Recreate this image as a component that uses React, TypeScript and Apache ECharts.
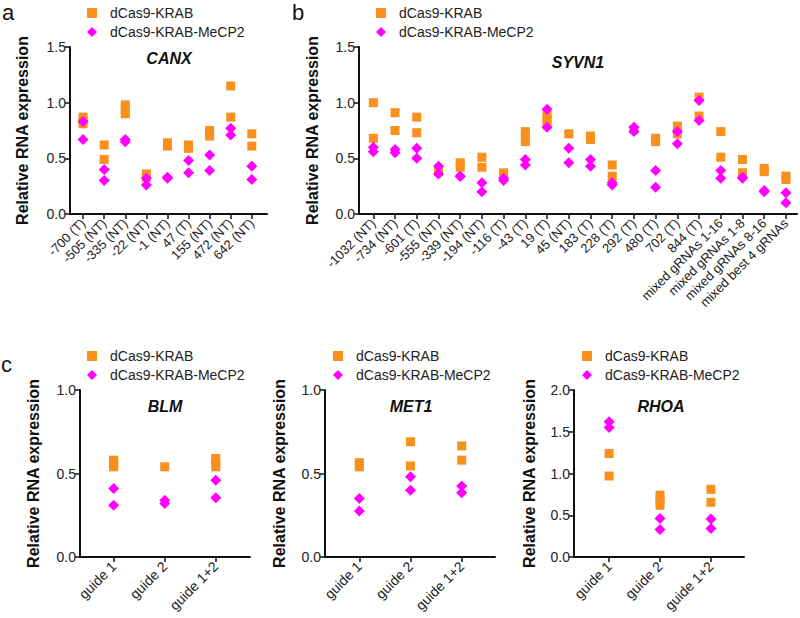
import React, { useEffect, useRef } from "react";
import * as echarts from "echarts";

const FONT = "'Liberation Sans', Arial, sans-serif";
const ORANGE = "#F7901E";
const MAGENTA = "#FF00FF";
const S1 = "dCas9-KRAB";
const S2 = "dCas9-KRAB-MeCP2";

// Panel a: CANX
const canxCats = ["-700 (T)", "-505 (NT)", "-335 (NT)", "-22 (NT)", "-1 (NT)", "47 (T)", "155 (NT)", "472 (NT)", "642 (NT)"];
const canxKrab = [[0.87, 0.84, 0.81], [0.62, 0.49], [0.98, 0.94, 0.9], [0.36, 0.33], [0.64, 0.61], [0.62, 0.59], [0.75, 0.7], [1.15, 0.87], [0.72, 0.61]];
const canxMecp2 = [[0.83, 0.67], [0.4, 0.3], [0.67, 0.65], [0.32, 0.26], [0.33, 0.32], [0.48, 0.37], [0.53, 0.39], [0.77, 0.71], [0.43, 0.31]];

// Panel b: SYVN1
const syvnCats = ["-1032 (NT)", "-734 (NT)", "-601 (T)", "-555 (NT)", "-339 (NT)", "-194 (NT)", "-116 (T)", "-43 (T)", "19 (T)", "45 (NT)", "183 (T)", "228 (T)", "292 (T)", "480 (T)", "702 (T)", "844 (T)", "mixed gRNAs 1-16", "mixed gRNAs 1-8", "mixed gRNAs 8-16", "mixed best 4 gRNAs"];
const syvnKrab = [[1.0, 0.68], [0.91, 0.75], [0.87, 0.73], [0.4, 0.38], [0.46, 0.42], [0.51, 0.42], [0.37, 0.35], [0.74, 0.69, 0.65], [0.89, 0.85, 0.8], [0.72], [0.7, 0.67], [0.44, 0.34], [0.76], [0.68, 0.65], [0.79, 0.72], [1.05, 0.88], [0.74, 0.51], [0.49, 0.37], [0.41, 0.38], [0.34, 0.31]];
const syvnMecp2 = [[0.6, 0.56], [0.58, 0.55], [0.59, 0.5], [0.43, 0.36], [0.34, 0.34], [0.28, 0.2], [0.32, 0.3], [0.49, 0.44], [0.94, 0.78], [0.59, 0.46], [0.49, 0.43], [0.28, 0.26], [0.78, 0.74], [0.39, 0.24], [0.74, 0.63], [1.02, 0.84], [0.39, 0.32], [0.33, 0.32], [0.21, 0.2], [0.19, 0.1]];

// Panel c
const guideCats = ["guide 1", "guide 2", "guide 1+2"];
const blmKrab = [[0.58, 0.56, 0.54], [0.54], [0.59, 0.56, 0.54]];
const blmMecp2 = [[0.41, 0.31], [0.34, 0.32], [0.46, 0.355]];
const met1Krab = [[0.565, 0.54], [0.69, 0.545], [0.665, 0.58]];
const met1Mecp2 = [[0.35, 0.275], [0.48, 0.4], [0.425, 0.385]];
const rhoaKrab = [[1.24, 0.97], [0.74, 0.68, 0.62], [0.81, 0.655]];
const rhoaMecp2 = [[1.62, 1.55], [0.46, 0.33], [0.455, 0.34]];

const yTicks15 = { min: 0, max: 1.5 };
const yTicks10 = { min: 0, max: 1.0 };
const yTicks20 = { min: 0, max: 2.0 };

type Panel = {
  cats: string[];
  krab: number[][];
  mecp2: number[][];
  grid: { left: number; top: number; width: number; height: number };
  xMin: number;
  xMax: number;
  y: { min: number; max: number };
  nameGap: number;
  gene: string;
  geneX: number;
  geneY: number;
  legendLeft: number;
  legendTop: number;
  xFont: number;
};

const panels: Panel[] = [
  { cats: canxCats, krab: canxKrab, mecp2: canxMecp2, grid: { left: 70, top: 47, width: 197, height: 167 }, xMin: -0.62, xMax: 8.72, y: yTicks15, nameGap: 40, gene: "CANX", geneX: 169, geneY: 58, legendLeft: 87, legendTop: 6, xFont: 13 },
  { cats: syvnCats, krab: syvnKrab, mecp2: syvnMecp2, grid: { left: 359, top: 47, width: 438, height: 167 }, xMin: -0.66, xMax: 19.51, y: yTicks15, nameGap: 39, gene: "SYVN1", geneX: 578, geneY: 62, legendLeft: 376, legendTop: 6, xFont: 13 },
  { cats: guideCats, krab: blmKrab, mecp2: blmMecp2, grid: { left: 80, top: 390, width: 170, height: 167 }, xMin: -0.66, xMax: 2.67, y: yTicks10, nameGap: 39, gene: "BLM", geneX: 165, geneY: 406, legendLeft: 87, legendTop: 349, xFont: 14 },
  { cats: guideCats, krab: met1Krab, mecp2: met1Mecp2, grid: { left: 325, top: 390, width: 170, height: 167 }, xMin: -0.67, xMax: 2.65, y: yTicks10, nameGap: 38, gene: "MET1", geneX: 411, geneY: 406, legendLeft: 333, legendTop: 349, xFont: 14 },
  { cats: guideCats, krab: rhoaKrab, mecp2: rhoaMecp2, grid: { left: 574, top: 390, width: 170, height: 167 }, xMin: -0.69, xMax: 2.65, y: yTicks20, nameGap: 37, gene: "RHOA", geneX: 661, geneY: 406, legendLeft: 582, legendTop: 349, xFont: 14 },
];

function toPoints(groups: number[][]) {
  const out: number[][] = [];
  groups.forEach((g, i) => g.forEach((v) => out.push([i, v])));
  return out;
}

function buildOption() {
  const grid: any[] = [];
  const xAxis: any[] = [];
  const yAxis: any[] = [];
  const series: any[] = [];
  const legend: any[] = [];
  const graphic: any[] = [];
  const axisColor = "#111";

  panels.forEach((p, k) => {
    grid.push({ ...p.grid, containLabel: false });
    const idx = p.cats.map((_, i) => i);
    xAxis.push({
      type: "value",
      gridIndex: k,
      min: p.xMin,
      max: p.xMax,
      splitLine: { show: false },
      axisLine: { show: true, onZero: false, lineStyle: { color: axisColor, width: 2 } },
      axisTick: { show: true, customValues: idx, length: 5, lineStyle: { color: axisColor, width: 1.5 } },
      axisLabel: {
        show: true,
        customValues: idx,
        formatter: (v: number) => p.cats[Math.round(v)] ?? "",
        rotate: 45,
        fontSize: p.xFont,
        fontFamily: FONT,
        color: "#222",
        margin: 7,
      },
    });
    yAxis.push({
      type: "value",
      gridIndex: k,
      min: p.y.min,
      max: p.y.max,
      interval: 0.5,
      splitLine: { show: false },
      axisLine: { show: true, onZero: false, lineStyle: { color: axisColor, width: 2 } },
      axisTick: { show: true, length: 5, lineStyle: { color: axisColor, width: 1.5 } },
      axisLabel: { formatter: (v: number) => v.toFixed(1), fontSize: 14, fontFamily: FONT, color: "#222", margin: 4 },
      name: "Relative RNA expression",
      nameLocation: "middle",
      nameGap: p.nameGap,
      nameTextStyle: { fontSize: 16, fontWeight: "bold", fontFamily: FONT, color: "#111" },
    });
    series.push({
      type: "scatter",
      name: S1,
      xAxisIndex: k,
      yAxisIndex: k,
      symbol: "rect",
      symbolSize: 9,
      itemStyle: { color: ORANGE, opacity: 1 },
      data: toPoints(p.krab),
    });
    series.push({
      type: "scatter",
      name: S2,
      xAxisIndex: k,
      yAxisIndex: k,
      symbol: "diamond",
      symbolSize: 11,
      itemStyle: { color: MAGENTA, opacity: 1 },
      data: toPoints(p.mecp2),
    });
    legend.push({
      orient: "vertical",
      left: p.legendLeft,
      top: p.legendTop,
      padding: 0,
      itemWidth: 10,
      itemHeight: 10,
      itemGap: 5,
      selectedMode: false,
      textStyle: { fontSize: 14, fontFamily: FONT, color: "#222", padding: [0, 0, 0, 8] },
      data: [
        { name: S1, icon: "rect", itemStyle: { color: ORANGE } },
        { name: S2, icon: "diamond", itemStyle: { color: MAGENTA } },
      ],
    });
    graphic.push({
      type: "text",
      x: p.geneX,
      y: p.geneY,
      style: {
        text: p.gene,
        fontSize: 16,
        fontWeight: "bold",
        fontStyle: "italic",
        fontFamily: FONT,
        fill: "#111",
        align: "center",
        verticalAlign: "middle",
      },
    });
  });

  const letters = [
    { t: "a", x: 2, y: 12 },
    { t: "b", x: 292, y: 12 },
    { t: "c", x: 1, y: 364 },
  ];
  letters.forEach((l) =>
    graphic.push({
      type: "text",
      x: l.x,
      y: l.y,
      style: { text: l.t, fontSize: 22, fontFamily: FONT, fill: "#111", verticalAlign: "middle" },
    })
  );

  return {
    animation: false,
    backgroundColor: "#fff",
    grid,
    xAxis,
    yAxis,
    series,
    legend,
    graphic,
  };
}

export default function App() {
  const ref = useRef<HTMLDivElement>(null);
  useEffect(() => {
    if (!ref.current) return;
    const chart = echarts.init(ref.current, undefined, { renderer: "svg" });
    chart.setOption(buildOption() as any);
    return () => chart.dispose();
  }, []);
  return <div ref={ref} style={{ position: "absolute", left: 0, top: 0, width: 800, height: 618 }} />;
}
